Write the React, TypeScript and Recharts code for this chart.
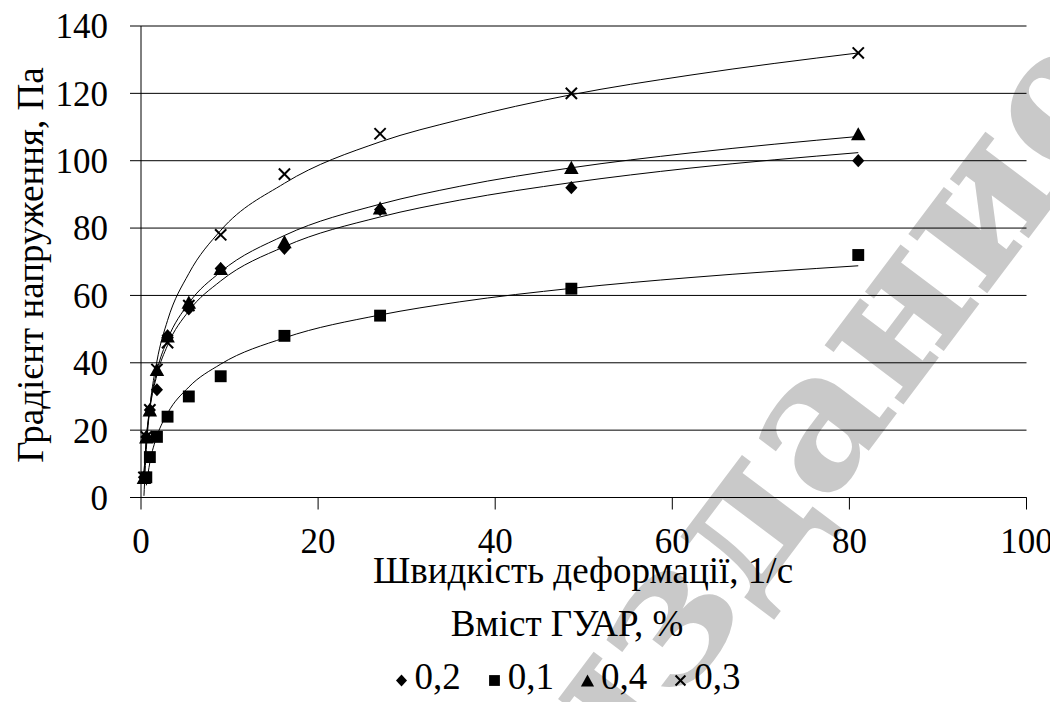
import { ComposedChart, Scatter, Line, XAxis, YAxis, CartesianGrid } from 'recharts'

// Градієнт напруження vs швидкість деформації для розчинів ГУАР.
// Точки — виміри на ротаційному віскозиметрі, лінії — логарифмічні тренди
// (значення тренду зчитані з рисунка у вузлах нижче).

const FONT = '"Liberation Serif", Tinos, serif'

// швидкості деформації, 1/с
const RATES = [0.333, 0.6, 1, 1.8, 3, 5.4, 9, 16.2, 27, 48.6, 81]
const RATES_01 = [0.6, 1, 1.8, 3, 5.4, 9, 16.2, 27, 48.6, 81]

// виміряні значення, Па
const GUAR_02 = [6, 18, 26, 32, 48, 56, 68, 74, 85.5, 92, 100]
const GUAR_01 = [6, 12, 18, 24, 30, 36, 48, 54, 62, 72]
const GUAR_04 = [6, 18, 26, 38, 48, 58, 68, 76, 86, 98, 108]
const GUAR_03 = [6, 18, 26, 38, 46, 57, 78, 96, 108, 120, 132]

// вузли ліній тренду
const TREND_X = [0.333, 0.6, 1, 1.8, 3, 5.4, 9, 16.2, 27, 36, 48.6, 62, 81]
const TREND_X_01 = [0.6, 1, 1.8, 3, 5.4, 9, 16.2, 27, 36, 48.6, 62, 81]
const TREND_02 = [7.1, 17.3, 26.2, 36.4, 45.2, 55.4, 64.3, 74.5, 83.3, 88.3, 93.5, 97.8, 102.4]
const TREND_01 = [3.6, 10.4, 18.2, 25.0, 32.8, 39.6, 47.4, 54.2, 58.1, 62.1, 65.3, 68.8]
const TREND_04 = [6.7, 17.4, 26.8, 37.6, 46.9, 57.7, 67.0, 77.8, 87.1, 92.4, 97.9, 102.3, 107.2]
const TREND_03 = [0.5, 14.3, 26.6, 40.5, 52.6, 66.5, 79.3, 93.3, 105.6, 112.2, 119.6, 125.4, 132]

const X_TICKS = [0, 20, 40, 60, 80, 100]
const Y_TICKS = [0, 20, 40, 60, 80, 100, 120, 140]

const pts = (xs: number[], ys: number[]) => xs.map((x, i) => ({ x, y: ys[i] }))

type MarkKind = 'diamond' | 'square' | 'triangle' | 'cross'

function Mark({ kind, cx, cy, s }: { kind: MarkKind; cx: number; cy: number; s: number }) {
  if (kind === 'diamond') {
    return <polygon points={`${cx},${cy - s} ${cx + s * 0.92},${cy} ${cx},${cy + s} ${cx - s * 0.92},${cy}`} fill="#000" />
  }
  if (kind === 'square') {
    return <rect x={cx - s * 0.9} y={cy - s * 0.9} width={s * 1.8} height={s * 1.8} fill="#000" />
  }
  if (kind === 'triangle') {
    return <polygon points={`${cx},${cy - s} ${cx + s * 1.1},${cy + s} ${cx - s * 1.1},${cy + s}`} fill="#000" />
  }
  return (
    <g stroke="#000" strokeWidth={2}>
      <line x1={cx - s * 0.85} y1={cy - s * 0.85} x2={cx + s * 0.85} y2={cy + s * 0.85} />
      <line x1={cx - s * 0.85} y1={cy + s * 0.85} x2={cx + s * 0.85} y2={cy - s * 0.85} />
    </g>
  )
}

const shapeOf = (kind: MarkKind) => (p: any) => <Mark kind={kind} cx={p.cx} cy={p.cy} s={6.6} />

const LEGEND: { kind: MarkKind; name: string }[] = [
  { kind: 'diamond', name: '0,2' },
  { kind: 'square', name: '0,1' },
  { kind: 'triangle', name: '0,4' },
  { kind: 'cross', name: '0,3' },
]

function YTitle() {
  return (
    <text x={22} y={257} transform="rotate(-90 22 257)" textAnchor="middle" dominantBaseline="central"
      style={{ fontFamily: FONT, fontSize: 37 }} fill="#000">
      Градієнт напруження, Па
    </text>
  )
}

function XTitle() {
  return (
    <text x={575} y={575} textAnchor="middle" style={{ fontFamily: FONT, fontSize: 37 }} fill="#000">
      Швидкість деформації, 1/с
    </text>
  )
}

export default function App() {
  const tick = { fill: '#000', fontSize: 35, fontFamily: FONT }
  const series = [
    { kind: 'diamond' as MarkKind, x: RATES, y: GUAR_02, tx: TREND_X, ty: TREND_02 },
    { kind: 'square' as MarkKind, x: RATES_01, y: GUAR_01, tx: TREND_X_01, ty: TREND_01 },
    { kind: 'triangle' as MarkKind, x: RATES, y: GUAR_04, tx: TREND_X, ty: TREND_04 },
    { kind: 'cross' as MarkKind, x: RATES, y: GUAR_03, tx: TREND_X, ty: TREND_03 },
  ]

  return (
    <div style={{ position: 'relative', width: 1050, height: 694, overflow: 'hidden', fontFamily: FONT }}>
      {/* водяний знак */}
      <svg width={1050} height={694} style={{ position: 'absolute', left: 0, top: 0 }}>
        <text x={805} y={406} transform="rotate(-53 805 406)" textAnchor="middle" dominantBaseline="central"
          style={{ fontFamily: '"DejaVu Serif"', fontSize: 190, fontWeight: 700 }} fill="#c9c9c9">
          издание
        </text>
      </svg>

      <div style={{ position: 'absolute', left: 0, top: 0 }}>
        <ComposedChart width={1050} height={694} margin={{ top: 18, right: 31.5, left: 0, bottom: 164.5 }}>
          <CartesianGrid vertical={false} stroke="#000" strokeWidth={1} />
          <XAxis
            type="number"
            dataKey="x"
            domain={[0, 100]}
            ticks={X_TICKS}
            interval={0}
            height={40}
            tickSize={12}
            tickMargin={19}
            tick={tick}
            axisLine={{ stroke: '#000' }}
            tickLine={{ stroke: '#000' }}
            label={<XTitle />}
          />
          <YAxis
            type="number"
            dataKey="y"
            domain={[0, 140]}
            ticks={Y_TICKS}
            interval={0}
            width={133}
            tickSize={11}
            tickMargin={22}
            tick={tick}
            axisLine={{ stroke: '#000' }}
            tickLine={{ stroke: '#000' }}
            label={<YTitle />}
          />
          {series.map(s => (
            <Line
              key={`t-${s.kind}`}
              data={pts(s.tx, s.ty)}
              dataKey="y"
              type="monotone"
              stroke="#000"
              strokeWidth={1}
              dot={false}
              activeDot={false}
              isAnimationActive={false}
            />
          ))}
          {series.map(s => (
            <Scatter
              key={`p-${s.kind}`}
              data={pts(s.x, s.y)}
              dataKey="y"
              shape={shapeOf(s.kind)}
              isAnimationActive={false}
            />
          ))}
        </ComposedChart>
      </div>

      {/* легенда */}
      <div style={{
        position: 'absolute', left: 100, top: 588.7, width: 918, fontSize: 37, lineHeight: '53px',
        color: '#000', textAlign: 'center', fontFamily: FONT,
      }}>
        <div>Вміст ГУАР, %</div>
        <div style={{ display: 'flex', justifyContent: 'center', gap: 26 }}>
          {LEGEND.map(l => (
            <span key={l.name} style={{ display: 'inline-flex', alignItems: 'center' }}>
              <svg width={15} height={15} style={{ position: 'relative', top: 4, marginRight: 6 }}>
                <Mark kind={l.kind} cx={7.5} cy={7.5} s={l.kind === 'cross' ? 5.8 : 6} />
              </svg>
              <span>{l.name}</span>
            </span>
          ))}
        </div>
      </div>
    </div>
  )
}
